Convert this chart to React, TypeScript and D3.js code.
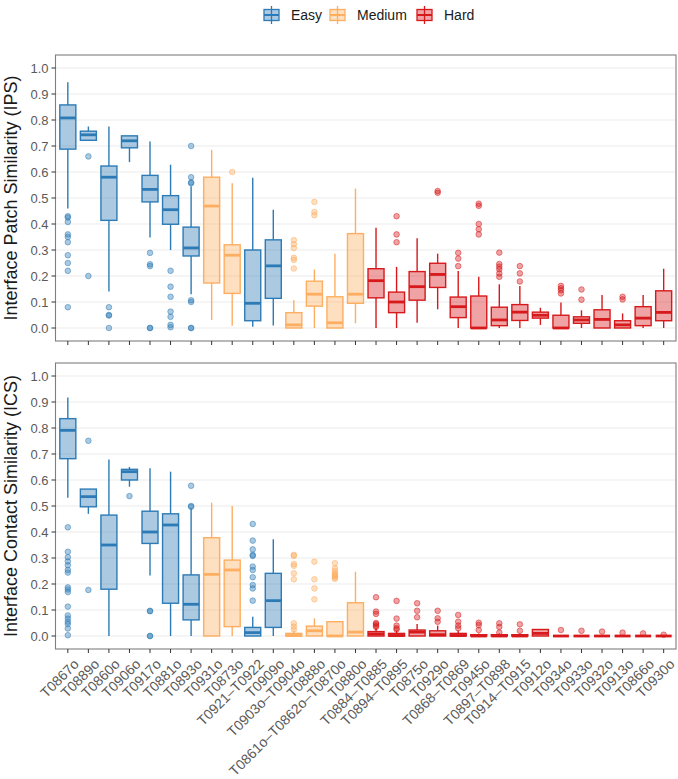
import React from "react";
import * as d3 from "d3";

const categories = ["T0867o","T0889o","T0860o","T0906o","T0917o","T0881o","T0893o","T0931o","T0873o","T0921–T0922","T0909o","T0903o–T0904o","T0888o","T0861o–T0862o–T0870o","T0880o","T0884–T0885","T0894–T0895","T0875o","T0929o","T0868–T0869","T0945o","T0897–T0898","T0914–T0915","T0912o","T0934o","T0933o","T0932o","T0913o","T0866o","T0930o"];
const difficulty = ["Easy","Easy","Easy","Easy","Easy","Easy","Easy","Medium","Medium","Easy","Easy","Medium","Medium","Medium","Medium","Hard","Hard","Hard","Hard","Hard","Hard","Hard","Hard","Hard","Hard","Hard","Hard","Hard","Hard","Hard"];
const levels = ["Easy","Medium","Hard"];

// IPS (top panel)
const ipsLow  = [0.46,0.72,0.14,0.638,0.348,0.30,0.13,0.031,0.009,0.005,0.01,0,0,0,0.018,0,0,0.02,0.072,0,0,0,0,0.012,0,0,0,0,0,0];
const ipsQ1   = [0.688,0.722,0.414,0.693,0.485,0.399,0.277,0.173,0.133,0.028,0.114,0,0.084,0,0.095,0.116,0.059,0.107,0.156,0.04,0,0.009,0.029,0.038,0,0.018,0,0,0.009,0.028];
const ipsMed  = [0.808,0.743,0.58,0.72,0.533,0.455,0.308,0.469,0.28,0.095,0.239,0.012,0.13,0.02,0.13,0.182,0.10,0.159,0.206,0.082,0,0.031,0.061,0.049,0,0.031,0.033,0.012,0.038,0.06];
const ipsQ3   = [0.858,0.757,0.623,0.739,0.587,0.509,0.388,0.58,0.32,0.30,0.339,0.059,0.18,0.12,0.363,0.228,0.138,0.217,0.249,0.119,0.123,0.08,0.09,0.061,0.049,0.043,0.07,0.028,0.082,0.143];
const ipsHigh = [0.945,0.775,0.775,0.74,0.717,0.628,0.545,0.685,0.557,0.578,0.455,0.107,0.225,0.286,0.536,0.386,0.235,0.345,0.286,0.219,0.197,0.168,0.162,0.078,0.098,0.068,0.127,0.056,0.127,0.228];
const ipsOutliers = [
  [0.43,0.425,0.408,0.36,0.35,0.33,0.28,0.25,0.22,0.08],
  [0.66,0.20],
  [0.08,0.05,0.048,0.0],
  [],
  [0.289,0.245,0.238,0.0,0.0],
  [0.22,0.159,0.12,0.063,0.043,0.012,0.003],
  [0.70,0.58,0.56,0.557,0.107,0.10,0.0,0.0],
  [],
  [0.60],
  [],
  [],
  [0.338,0.322,0.308,0.27,0.262,0.229],
  [0.485,0.446,0.434],
  [],
  [],
  [],
  [0.43,0.36,0.33],
  [],
  [0.527,0.52],
  [0.289,0.267,0.238],
  [0.478,0.47,0.40,0.38,0.36],
  [0.29,0.246,0.236,0.226,0.21,0.197],
  [0.238,0.21,0.179],
  [],
  [0.162,0.153,0.145,0.133],
  [0.148,0.109],
  [],
  [0.12,0.11],
  [],
  []
];

// ICS (bottom panel)
const icsLow  = [0.532,0.47,0,0.574,0.233,0,0,0,0,0,0,0,0,0,0,0,0,0,0,0,0,0,0,0,0,0,0,0,0,0];
const icsQ1   = [0.682,0.497,0.18,0.60,0.356,0.126,0.062,0,0.036,0,0.033,0,0,0,0,0,0,0,0,0,0,0,0,0,0,0,0,0,0,0];
const icsMed  = [0.791,0.536,0.35,0.632,0.40,0.427,0.122,0.237,0.254,0.013,0.136,0.002,0.02,0,0.015,0.008,0.002,0.015,0.005,0.002,0,0,0,0.01,0,0,0,0,0,0];
const icsQ3   = [0.836,0.565,0.465,0.641,0.48,0.47,0.235,0.378,0.292,0.033,0.241,0.01,0.038,0.055,0.128,0.017,0.01,0.023,0.02,0.01,0.005,0.005,0.005,0.025,0,0,0,0,0,0];
const icsHigh = [0.917,0.565,0.679,0.65,0.645,0.632,0.49,0.513,0.50,0.074,0.372,0.02,0.068,0.055,0.247,0.03,0.02,0.046,0.04,0.02,0.01,0.01,0.01,0.025,0,0,0,0,0,0];
const icsOutliers = [
  [0.418,0.324,0.303,0.287,0.272,0.254,0.244,0.187,0.179,0.169,0.113,0.079,0.067,0.055,0.046,0.029,0.003],
  [0.751,0.177],
  [],
  [0.538],
  [0.097,0.095,0,0],
  [],
  [0.578,0.5,0.497],
  [],
  [],
  [0.431,0.367,0.333,0.312,0.308,0.267,0.254,0.226,0.196,0.183,0.136],
  [],
  [0.312,0.308,0.277,0.27,0.241,0.218,0.049,0.036,0.025],
  [0.286,0.218,0.183,0.141],
  [0.28,0.26,0.25,0.24,0.235,0.23,0.225,0.22],
  [],
  [0.149,0.094,0.085,0.05,0.046,0.04,0.035],
  [0.135,0.067,0.04,0.03,0.025],
  [0.126,0.097,0.072],
  [0.097,0.068,0.055],
  [0.081,0.055,0.04,0.03],
  [0.051,0.042,0.023],
  [0.049,0.035,0.013],
  [0.045,0.02],
  [],
  [0.023],
  [0.02],
  [0.017],
  [0.013],
  [0.01],
  [0.005]
];

const yTicks = [0,0.1,0.2,0.3,0.4,0.5,0.6,0.7,0.8,0.9,1.0];
const colors: Record<string,string> = { Easy: "#2c7bb6", Medium: "#fdae61", Hard: "#d7191c" };

const W = 678, H = 779;
const PL = 55.5, PR = 676;
const panels = [
  { top: 55, bottom: 341, title: "Interface Patch Similarity (IPS)", low: ipsLow, q1: ipsQ1, med: ipsMed, q3: ipsQ3, high: ipsHigh, out: ipsOutliers, labels: false },
  { top: 363, bottom: 649, title: "Interface Contact Similarity (ICS)", low: icsLow, q1: icsQ1, med: icsMed, q3: icsQ3, high: icsHigh, out: icsOutliers, labels: true },
];
const FONT = "'Liberation Sans', Arial, Helvetica, sans-serif";

export default function App() {
  const x = d3.scalePoint<string>().domain(categories).range([PL, PR]).padding(0.6);
  const bw = 16;
  return (
    <svg width={W} height={H} style={{ position: "absolute", left: 0, top: 0, background: "#fff" }} fontFamily={FONT}>
      {/* legend */}
      {levels.map((lv, k) => {
        const gx = [264, 330, 417][k];
        const c = colors[lv];
        return (
          <g key={lv}>
            <line x1={gx + 7.5} x2={gx + 7.5} y1={6} y2={24} stroke={c} strokeWidth={1.3} />
            <rect x={gx} y={9.5} width={15} height={11} fill={c} fillOpacity={0.4} stroke={c} strokeWidth={1.3} />
            <line x1={gx} x2={gx + 15} y1={15} y2={15} stroke={c} strokeWidth={2} />
            <text x={gx + 27} y={20} fontSize={14} fill="#1a1a1a">{lv}</text>
          </g>
        );
      })}
      {panels.map((p, pi) => {
        const y = d3.scaleLinear().domain([-0.05, 1.05]).range([p.bottom, p.top]);
        const cy = (p.top + p.bottom) / 2;
        return (
          <g key={pi}>
            <rect x={PL} y={p.top} width={PR - PL} height={p.bottom - p.top} fill="#fff" />
            {yTicks.map(t => (
              <line key={t} x1={PL} x2={PR} y1={y(t)} y2={y(t)} stroke="#ebebeb" strokeWidth={1} />
            ))}
            {categories.map((cat, i) => {
              const cx = x(cat)!;
              const c = colors[difficulty[i]];
              return (
                <g key={cat}>
                  {p.out[i].map((v, j) => (
                    <circle key={j} cx={cx} cy={y(v)} r={2.8} fill={c} fillOpacity={0.4} stroke={c} strokeOpacity={0.5} strokeWidth={1} />
                  ))}
                  <line x1={cx} x2={cx} y1={y(p.q3[i])} y2={y(p.high[i])} stroke={c} strokeWidth={1.4} />
                  <line x1={cx} x2={cx} y1={y(p.q1[i])} y2={y(p.low[i])} stroke={c} strokeWidth={1.4} />
                  <rect x={cx - bw / 2} y={y(p.q3[i])} width={bw} height={Math.max(0, y(p.q1[i]) - y(p.q3[i]))} fill={c} fillOpacity={0.4} stroke={c} strokeWidth={1.4} />
                  <line x1={cx - bw / 2} x2={cx + bw / 2} y1={y(p.med[i])} y2={y(p.med[i])} stroke={c} strokeWidth={2.8} />
                </g>
              );
            })}
            <rect x={PL} y={p.top} width={PR - PL} height={p.bottom - p.top} fill="none" stroke="#7f7f7f" strokeWidth={1.1} />
            {yTicks.map(t => (
              <g key={t}>
                <line x1={PL - 4} x2={PL} y1={y(t)} y2={y(t)} stroke="#333" strokeWidth={1} />
                <text x={PL - 7} y={y(t)} dy="0.35em" textAnchor="end" fontSize={13} fill="#5a5a5a">{t.toFixed(1)}</text>
              </g>
            ))}
            {categories.map(cat => (
              <line key={cat} x1={x(cat)!} x2={x(cat)!} y1={p.bottom} y2={p.bottom + 4} stroke="#333" strokeWidth={1} />
            ))}
            {p.labels && categories.map(cat => (
              <text key={cat} transform={`translate(${x(cat)! + 5},${p.bottom + 9}) rotate(-45)`} textAnchor="end" dy="0.7em" fontSize={14} fill="#5a5a5a">{cat}</text>
            ))}
            <text transform={`translate(17,${cy}) rotate(-90)`} textAnchor="middle" fontSize={18} fill="#1a1a1a">{p.title}</text>
          </g>
        );
      })}
    </svg>
  );
}
